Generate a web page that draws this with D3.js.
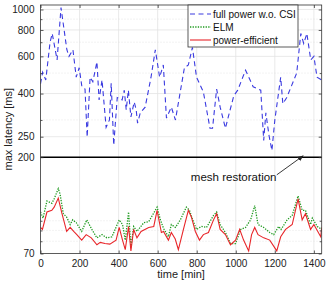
<!DOCTYPE html>
<html><head><meta charset="utf-8">
<script src="https://cdn.jsdelivr.net/npm/d3@7"></script>
<style>
html,body{margin:0;padding:0;background:#fff;}
svg{display:block;font-family:"Liberation Sans",Arial,sans-serif;}
</style></head>
<body><svg id="c" width="326" height="281"></svg>
<script>
// ---- data ----
const xTicks = [0,200,400,600,800,1000,1200,1400];
const yTicks = [70,200,250,400,600,800,1000];
const yMinor = [80,90,100,300,500,700,900];
const legendLabels = ["full power w.o. CSI","ELM","power-efficient"];

const fullT = [0,11,27,49,60,85,105,135,146,166,183,198,212,228,239,254,268,289,300,315,336,353,362,375,393,418,429,439,450,463,480,490,497,511,536,566,588,610,629,645,670,691,737,757,778,799,834,868,881,902,920,947,964,990,1010,1050,1089,1128,1143,1154,1170,1185,1200,1230,1241,1261,1312,1333,1348,1364,1384,1400,1416,1440];
const fullV = [445,505,464,700,770,577,1020,645,600,645,478,530,431,420,249,478,455,565,373,464,277,300,448,228,383,373,415,335,415,310,365,335,290,324,345,478,645,478,546,306,345,300,530,546,661,478,407,274,274,420,345,274,316,391,415,516,431,415,240,324,254,215,300,478,358,383,500,770,690,770,577,600,478,464];

const elmT = [0,13,33,58,70,91,100,117,134,152,165,183,211,237,263,289,315,340,366,403,420,434,451,463,477,494,529,554,597,614,630,655,670,691,716,747,763,783,799,824,850,886,902,920,947,973,999,1025,1050,1076,1097,1114,1143,1174,1194,1220,1232,1263,1289,1319,1340,1357,1383,1392,1417,1440];
const elmV = [110,103,124,121,127,142,134,108,104,96,101,98,89,101,91,83,86,83,84,101,96,81,110,75,94,89,98,99,116,101,92,84,96,93,101,116,112,99,91,94,93,106,110,96,88,78,78,91,93,101,118,96,93,88,86,94,91,101,106,131,112,112,96,103,94,91];

const peT = [0,10,33,58,70,91,110,134,152,170,186,211,234,260,289,306,330,355,387,403,420,434,451,463,477,494,515,554,580,597,619,630,655,670,690,706,732,757,773,793,814,834,860,886,902,920,947,973,999,1020,1040,1066,1081,1097,1114,1143,1174,1210,1230,1255,1289,1319,1340,1357,1383,1400,1435,1440];
const peV = [93,91,110,112,116,128,108,89,93,89,86,81,86,83,77,79,78,77.5,81,93,81,73,94,72,91,83,89,93,94,112,88,89,81,88,82,73,91,112,104,89,81,86,88,101,108,91,86,77,81,91,81,72,86,93,86,83,81,72,84,91,96,127,101,108,91,96,84,93];

// ---- layout ----
const L=40.5, R=321.7, T=5, B=253.5;
const svg = d3.select("#c");
const x = d3.scaleLinear().domain([0,1440]).range([L,R]);
const y = d3.scaleLog().domain([70,1050]).range([B,T]);

// grid
const g = svg.append("g");
g.selectAll(".vg").data(xTicks.slice(1)).enter().append("line")
  .attr("x1",d=>x(d)).attr("x2",d=>x(d)).attr("y1",T).attr("y2",B)
  .attr("stroke","#e3e3e3").attr("stroke-width",0.8);
g.selectAll(".hg").data(yTicks.slice(1)).enter().append("line")
  .attr("x1",L).attr("x2",R).attr("y1",d=>y(d)).attr("y2",d=>y(d))
  .attr("stroke","#e3e3e3").attr("stroke-width",0.8);
g.selectAll(".mg").data(yMinor).enter().append("line")
  .attr("x1",L).attr("x2",R).attr("y1",d=>y(d)).attr("y2",d=>y(d))
  .attr("stroke","#e0e0e0").attr("stroke-width",0.8).attr("stroke-dasharray","1,2");

// lines
svg.append("clipPath").attr("id","clp").append("rect").attr("x",L).attr("y",T).attr("width",R-L).attr("height",B-T);
const line = d3.line().x(d=>x(d[0])).y(d=>y(d[1]));
const plot = svg.append("g").attr("clip-path","url(#clp)");
plot.append("path").datum(d3.zip(fullT,fullV)).attr("d",line)
  .attr("fill","none").attr("stroke","#3a3ae0").attr("stroke-width",1.1).attr("stroke-dasharray","5,3.5");
plot.append("path").datum(d3.zip(elmT,elmV)).attr("d",line)
  .attr("fill","none").attr("stroke","#1f9a1f").attr("stroke-width",1.3).attr("stroke-dasharray","1.3,1.3");
plot.append("path").datum(d3.zip(peT,peV)).attr("d",line)
  .attr("fill","none").attr("stroke","#e8262a").attr("stroke-width",1.1);

// separator at 200
svg.append("line").attr("x1",L).attr("x2",R).attr("y1",y(200)).attr("y2",y(200))
  .attr("stroke","#000").attr("stroke-width",1.5);

// axes box
svg.append("rect").attr("x",L).attr("y",T).attr("width",R-L).attr("height",B-T)
  .attr("fill","none").attr("stroke","#333").attr("stroke-width",0.8);

// axes ticks (inward)
const xb = d3.axisBottom(x).tickValues(xTicks).tickFormat(d3.format("d")).tickSizeInner(-3).tickSizeOuter(0).tickPadding(6);
svg.append("g").attr("transform",`translate(0,${B})`).call(xb);
const xt = d3.axisTop(x).tickValues(xTicks).tickSizeInner(-3).tickSizeOuter(0).tickFormat("");
svg.append("g").attr("transform",`translate(0,${T})`).call(xt);
const yl = d3.axisLeft(y).tickValues(yTicks).tickFormat(d3.format("d")).tickSizeInner(-3).tickSizeOuter(0).tickPadding(6);
svg.append("g").attr("transform",`translate(${L},0)`).call(yl);
const yr = d3.axisRight(y).tickValues(yTicks).tickSizeInner(-3).tickSizeOuter(0).tickFormat("");
svg.append("g").attr("transform",`translate(${R},0)`).call(yr);
const ylm = d3.axisLeft(y).tickValues(yMinor).tickSizeInner(-2).tickSizeOuter(0).tickFormat("");
svg.append("g").attr("transform",`translate(${L},0)`).call(ylm);
const yrm = d3.axisRight(y).tickValues(yMinor).tickSizeInner(-2).tickSizeOuter(0).tickFormat("");
svg.append("g").attr("transform",`translate(${R},0)`).call(yrm);
svg.selectAll(".domain").remove();
svg.selectAll(".tick line").attr("stroke","#333").attr("stroke-width",0.8);
svg.selectAll(".tick text").attr("font-size","10px").attr("fill","#222").attr("font-family","Liberation Sans, Arial, sans-serif");

// axis labels
svg.append("text").attr("x",(L+R)/2).attr("y",278).attr("text-anchor","middle")
  .attr("font-size","11px").attr("fill","#222").text("time [min]");
svg.append("text").attr("transform",`translate(12,${(T+B)/2}) rotate(-90)`).attr("text-anchor","middle")
  .attr("font-size","11px").attr("fill","#222").text("max latency [ms]");

// annotation
svg.append("defs").append("marker").attr("id","arr").attr("viewBox","0 0 10 10")
  .attr("refX",9).attr("refY",5).attr("markerWidth",7).attr("markerHeight",7).attr("orient","auto")
  .append("path").attr("d","M0,1 L10,5 L0,9 z").attr("fill","#222");
svg.append("line").attr("x1",x(1210)).attr("y1",y(165)).attr("x2",x(1345)).attr("y2",y(203))
  .attr("stroke","#222").attr("stroke-width",0.9).attr("marker-end","url(#arr)");
svg.append("text").attr("x",x(770)).attr("y",y(155)).attr("font-size","11.5px").attr("fill","#111").text("mesh restoration");

// legend
const lg = svg.append("g");
lg.append("rect").attr("x",188).attr("y",T).attr("width",110).attr("height",42)
  .attr("fill","#fff").attr("stroke","#333").attr("stroke-width",0.8);
const styles = [
  {c:"#3a3ae0",d:"5,3.5",w:1.1},
  {c:"#1f9a1f",d:"1.3,1.3",w:1.3},
  {c:"#e8262a",d:null,w:1.1}];
legendLabels.forEach((t,i)=>{
  const cy = 14 + i*13;
  lg.append("line").attr("x1",190).attr("x2",211).attr("y1",cy).attr("y2",cy)
    .attr("stroke",styles[i].c).attr("stroke-width",styles[i].w).attr("stroke-dasharray",styles[i].d);
  lg.append("text").attr("x",213).attr("y",cy+3.6).attr("font-size","10px").attr("fill","#111").text(t);
});
</script></body></html>
